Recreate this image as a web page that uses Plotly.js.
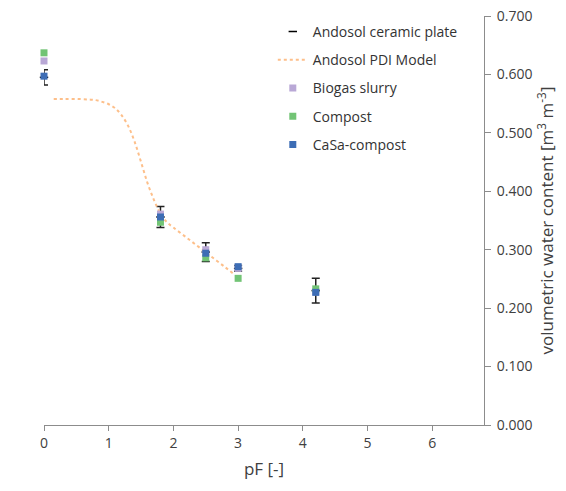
<!DOCTYPE html>
<html>
<head>
<meta charset="utf-8">
<script src="https://cdn.plot.ly/plotly-3.0.1.min.js"></script>
<style>html,body{margin:0;padding:0;background:#fff;}#chart{width:566px;height:491px;}</style>
</head>
<body>
<div id="chart"></div>
<script>
// pF values of the measurements
const pfPoints = [0, 1.8, 2.5, 3.0, 4.2];
// Andosol ceramic plate (mean and error)
const ceramicTheta = [0.595, 0.356, 0.296, 0.268, 0.230];
const ceramicErr = [0.013, 0.018, 0.016, 0.005, 0.021];
// Amended soils
const biogasTheta = [0.623, 0.361, 0.300, 0.268, 0.228];
const compostTheta = [0.637, 0.347, 0.286, 0.251, 0.233];
const casaTheta = [0.597, 0.356, 0.294, 0.271, 0.227];
// Andosol PDI model curve
const modelPf = [0.15, 0.3, 0.5, 0.7, 0.8, 0.9, 1.0, 1.1, 1.2, 1.3, 1.4, 1.5, 1.6, 1.7, 1.8, 1.9, 2.0, 2.2, 2.4, 2.6, 2.8, 2.95];
const modelTheta = [0.558, 0.558, 0.558, 0.557, 0.556, 0.553, 0.549, 0.542, 0.530, 0.512, 0.485, 0.450, 0.414, 0.385, 0.362, 0.347, 0.338, 0.321, 0.304, 0.287, 0.270, 0.257];

const font = '"Open Sans", "Liberation Sans", sans-serif';

const traces = [
  {
    name: 'Andosol ceramic plate', x: pfPoints, y: ceramicTheta, type: 'scatter', mode: 'markers',
    legendgroup: 'a',
    marker: {symbol: 'line-ew', size: 6, color: '#000', line: {color: '#000', width: 1.5}},
    error_y: {type: 'data', array: ceramicErr, visible: true, color: '#222', thickness: 1.5, width: 4},
    cliponaxis: false
  },
  {
    name: 'Andosol PDI Model', x: modelPf, y: modelTheta, type: 'scatter', mode: 'lines',
    legendgroup: 'b',
    line: {color: '#FDBF8A', width: 2, dash: 'dot', shape: 'spline'},
    cliponaxis: false
  },
  {
    name: 'Biogas slurry', x: pfPoints, y: biogasTheta, type: 'scatter', mode: 'markers',
    legendgroup: 'c',
    marker: {symbol: 'square', size: 7, color: '#B9A8D6'}, cliponaxis: false
  },
  {
    name: 'Compost', x: pfPoints, y: compostTheta, type: 'scatter', mode: 'markers',
    legendgroup: 'd',
    marker: {symbol: 'square', size: 7, color: '#72C475'}, cliponaxis: false
  },
  {
    name: 'CaSa-compost', x: pfPoints, y: casaTheta, type: 'scatter', mode: 'markers',
    legendgroup: 'e',
    marker: {symbol: 'square', size: 7, color: '#3D6DB5'}, cliponaxis: false
  }
];

const layout = {
  width: 566, height: 491,
  margin: {l: 44, r: 82, t: 16, b: 66},
  paper_bgcolor: '#fff', plot_bgcolor: '#fff',
  font: {family: font, color: '#404040', size: 14},
  showlegend: true,
  legend: {
    x: 0.52, y: 1.0, xanchor: 'left', yanchor: 'top',
    bgcolor: 'rgba(255,255,255,0)', font: {family: font, size: 14, color: '#333'},
    traceorder: 'grouped', tracegroupgap: 7, itemwidth: 30
  },
  xaxis: {
    range: [0, 6.8], tickvals: [0, 1, 2, 3, 4, 5, 6],
    showgrid: false, zeroline: false, showline: true, linecolor: '#8c8c8c', linewidth: 1,
    ticks: 'outside', ticklen: 5, tickcolor: '#8c8c8c',
    tickfont: {family: font, size: 14, color: '#404040'},
    title: {text: 'pF [-]', font: {family: font, size: 17, color: '#404040'}, standoff: 12}
  },
  yaxis: {
    range: [0, 0.7], side: 'right', tickvals: [0, 0.1, 0.2, 0.3, 0.4, 0.5, 0.6, 0.7],
    tickformat: '.3f',
    showgrid: false, zeroline: false, showline: true, linecolor: '#8c8c8c', linewidth: 1,
    ticks: 'outside', ticklen: 6, tickcolor: '#8c8c8c', ticklabelstandoff: 3,
    tickfont: {family: font, size: 14, color: '#404040'},
    title: {text: 'volumetric water content [m<sup>3</sup> m<sup>-3</sup>]', font: {family: font, size: 17, color: '#404040'}, standoff: 0}
  }
};

Plotly.newPlot('chart', traces, layout, {staticPlot: true, displayModeBar: false});
</script>
</body>
</html>
